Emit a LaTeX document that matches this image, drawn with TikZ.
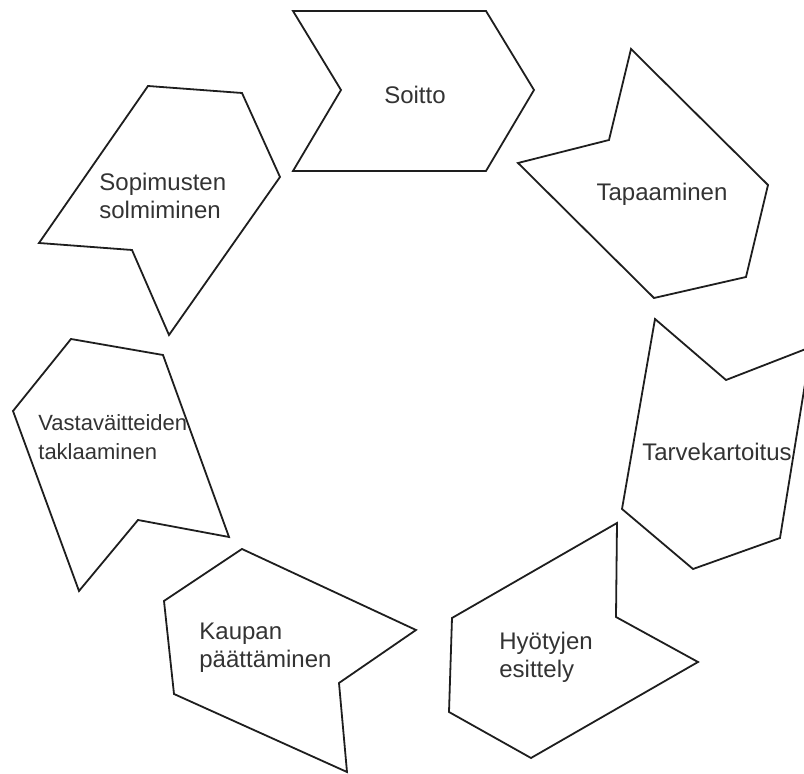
\documentclass[tikz,border=0pt]{standalone}
\usepackage{fontspec}
\setmainfont{Liberation Sans}
\usepackage{xcolor}
\definecolor{EdgeBlack}{RGB}{30,30,30}
\definecolor{LabelGray}{RGB}{51,51,51}

\begin{document}
\begin{tikzpicture}[x=0.5pt,y=-0.5pt,
  stage/.style={draw=EdgeBlack,line width=0.9pt,fill=white,line join=miter},
  steplabel/.style={font=\fontsize{12}{14}\selectfont,text=LabelGray,
                    align=left,inner sep=0pt},
]
\clip (0,0) rectangle (804,774);
% the seven stages, clockwise from the top
\draw[stage] (293,11) -- (486,11) -- (534,90) -- (486,171) -- (293,171) -- (341,90) -- cycle;
\draw[stage] (631,49) -- (768,185) -- (746,277) -- (654,298) -- (518,163) -- (609,140) -- cycle;
\draw[stage] (655,319) -- (726,380) -- (811,347) -- (780,538) -- (693,569) -- (622,509) -- cycle;
\draw[stage] (617,523) -- (616,617) -- (698,662) -- (531,758) -- (449,712) -- (452,618) -- cycle;
\draw[stage] (242,549) -- (416,630) -- (339,683) -- (347,772) -- (174,694) -- (164,601) -- cycle;
\draw[stage] (71,339) -- (163,355) -- (229,537) -- (138,520) -- (79,591) -- (13,411) -- cycle;
\draw[stage] (148,86) -- (242,93) -- (280,177) -- (169,335) -- (132,250) -- (39,243) -- cycle;
% labels
\node[steplabel] (soitto) at (415,95) {Soitto};
\node[steplabel] (tapaaminen) at (662,194) {Tapaaminen};
\node[steplabel] (tarve) at (717,452) {Tarvekartoitus};
\node[steplabel,anchor=west] (hyoty) at (499,657) {Hyötyjen\\esittely};
\node[steplabel,anchor=west] (kauppa) at (199,648) {Kaupan\\päättäminen};
\node[steplabel,anchor=west,font=\fontsize{11}{14.5}\selectfont] (vasta) at (38,437)
  {Vastaväitteiden\\taklaaminen};
\node[steplabel,anchor=west] (sopimus) at (99,196) {Sopimusten\\solmiminen};
\end{tikzpicture}
\end{document}
